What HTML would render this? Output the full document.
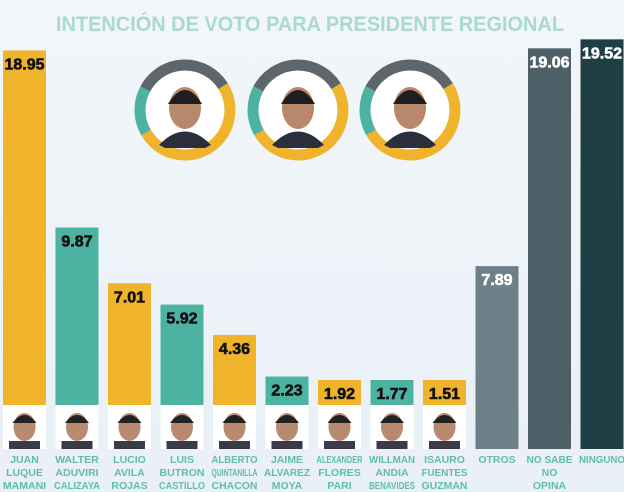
<!DOCTYPE html>
<html><head><meta charset="utf-8"><style>
body{margin:0;width:624px;height:492px;overflow:hidden;background:#eef3f8;font-family:"Liberation Sans",sans-serif}
svg{display:block}
</style></head><body>
<svg id="chart" width="624" height="492">
<defs><linearGradient id="bg" x1="0" y1="0" x2="0" y2="1"><stop offset="0" stop-color="#f2f6fa"/><stop offset="1" stop-color="#e9f0f6"/></linearGradient></defs>
<rect width="624" height="492" fill="url(#bg)"/>
<text x="310" y="31" text-anchor="middle" font-size="21" font-weight="bold" fill="#a9d9d2" textLength="508" lengthAdjust="spacingAndGlyphs">INTENCIÓN DE VOTO PARA  PRESIDENTE REGIONAL</text>
<g id="donuts"></g>
<g id="bars"></g>
</svg>
<script>
const names=[["JUAN","LUQUE","MAMANI"],["WALTER","ADUVIRI","CALIZAYA"],["LUCIO","AVILA","ROJAS"],["LUIS","BUTRON","CASTILLO"],["ALBERTO","QUINTANILLA","CHACON"],["JAIME","ALVAREZ","MOYA"],["ALEXANDER","FLORES","PARI"],["WILLMAN","ANDIA","BENAVIDES"],["ISAURO","FUENTES","GUZMAN"],["OTROS"],["NO SABE","NO","OPINA"],["NINGUNO"]];
const values=[18.95,9.87,7.01,5.92,4.36,2.23,1.92,1.77,1.51,7.89,19.06,19.52];
const labels=["18.95","9.87","7.01","5.92","4.36","2.23","1.92","1.77","1.51","7.89","19.06","19.52"];
const NS="http://www.w3.org/2000/svg";
function mk(t,a,p){const e=document.createElementNS(NS,t);for(const k in a)e.setAttribute(k,a[k]);p.appendChild(e);return e;}
const base=420, k=19.5, photoTop=405;
function yScale(v){return base-v*k;}
function xScale(i){return 3+i*52.5;}
const colors=["#f0b42c","#4cb3a3","#f0b42c","#4cb3a3","#f0b42c","#4cb3a3","#f0b42c","#4cb3a3","#f0b42c","#6d8088","#4e6067","#203f45"];
const g=document.getElementById('bars');
values.forEach((v,i)=>{
  const x=xScale(i),w=43;
  const cand=i<9;
  const top=Math.min(yScale(v),photoTop-25);
  const grp=mk('g',{},g);
  
  
  mk('rect',{x:x,y:top,width:w,height:449-top,fill:colors[i]},grp);
  if(cand){
    const ph=mk('rect',{x:x,y:photoTop,width:w,height:44,fill:'#fff'},grp);
    
    
    mk('rect',{x:x+6,y:photoTop+36,width:w-12,height:8,fill:'#3a3a48'},grp);
    mk('ellipse',{cx:x+w/2,cy:photoTop+22,rx:11,ry:14,fill:'#b88a70'},grp);
    mk('path',{d:`M${x+w/2-12} ${photoTop+18} Q${x+w/2} ${photoTop+2} ${x+w/2+12} ${photoTop+18} Z`,fill:'#222'},grp);
  }
  const t=mk('text',{x:x+w/2,y:top+19,'text-anchor':'middle','font-size':16,'font-weight':'bold',fill:cand?'#111':'#fff',stroke:cand?'#111':'#fff','stroke-width':0.6},grp);
  t.textContent=labels[i];
  
  
  names[i].forEach((n,j)=>{
    const nt=mk('text',{x:x+w/2,y:463+j*13,'text-anchor':'middle','font-size':10.5,'font-weight':'bold',fill:'#5fbdb0'},grp);
    nt.textContent=n;
    
    
    if(nt.getComputedTextLength()>46){nt.setAttribute('textLength',46);nt.setAttribute('lengthAdjust','spacingAndGlyphs');}
  });
});
const dg=document.getElementById('donuts');
const centers=[185,298,410];
function arc(cx,cy,r,a0,a1){const p=a=>[cx+r*Math.sin(a*Math.PI/180),cy-r*Math.cos(a*Math.PI/180)];const s=p(a0),e=p(a1);return `M${s[0]} ${s[1]} A${r} ${r} 0 ${a1-a0>180?1:0} 1 ${e[0]} ${e[1]}`;}
centers.forEach((cx,i)=>{
  const cy=110,r=45;
  const grp=mk('g',{},dg);
  
  
  mk('path',{d:arc(cx,cy,r,-62,58),stroke:'#5d676b','stroke-width':11,fill:'none'},grp);
  mk('path',{d:arc(cx,cy,r,58,240),stroke:'#f0b42c','stroke-width':11,fill:'none'},grp);
  mk('path',{d:arc(cx,cy,r,240,298),stroke:'#4cb3a3','stroke-width':11,fill:'none'},grp);
  mk('circle',{cx:cx,cy:cy,r:39,fill:'#fff'},grp);
  mk('path',{d:`M${cx-26} ${cy+35} Q${cx} ${cy+8} ${cx+26} ${cy+35} L${cx+20} ${cy+38} L${cx-20} ${cy+38}Z`,fill:'#2b2f3c'},grp);
  mk('ellipse',{cx:cx,cy:cy-2,rx:16,ry:21,fill:'#b8876c'},grp);
  mk('path',{d:`M${cx-17} ${cy-6} Q${cx} ${cy-34} ${cx+17} ${cy-6} Z`,fill:'#1e1e22'},grp);
});
</script>
</body></html>
